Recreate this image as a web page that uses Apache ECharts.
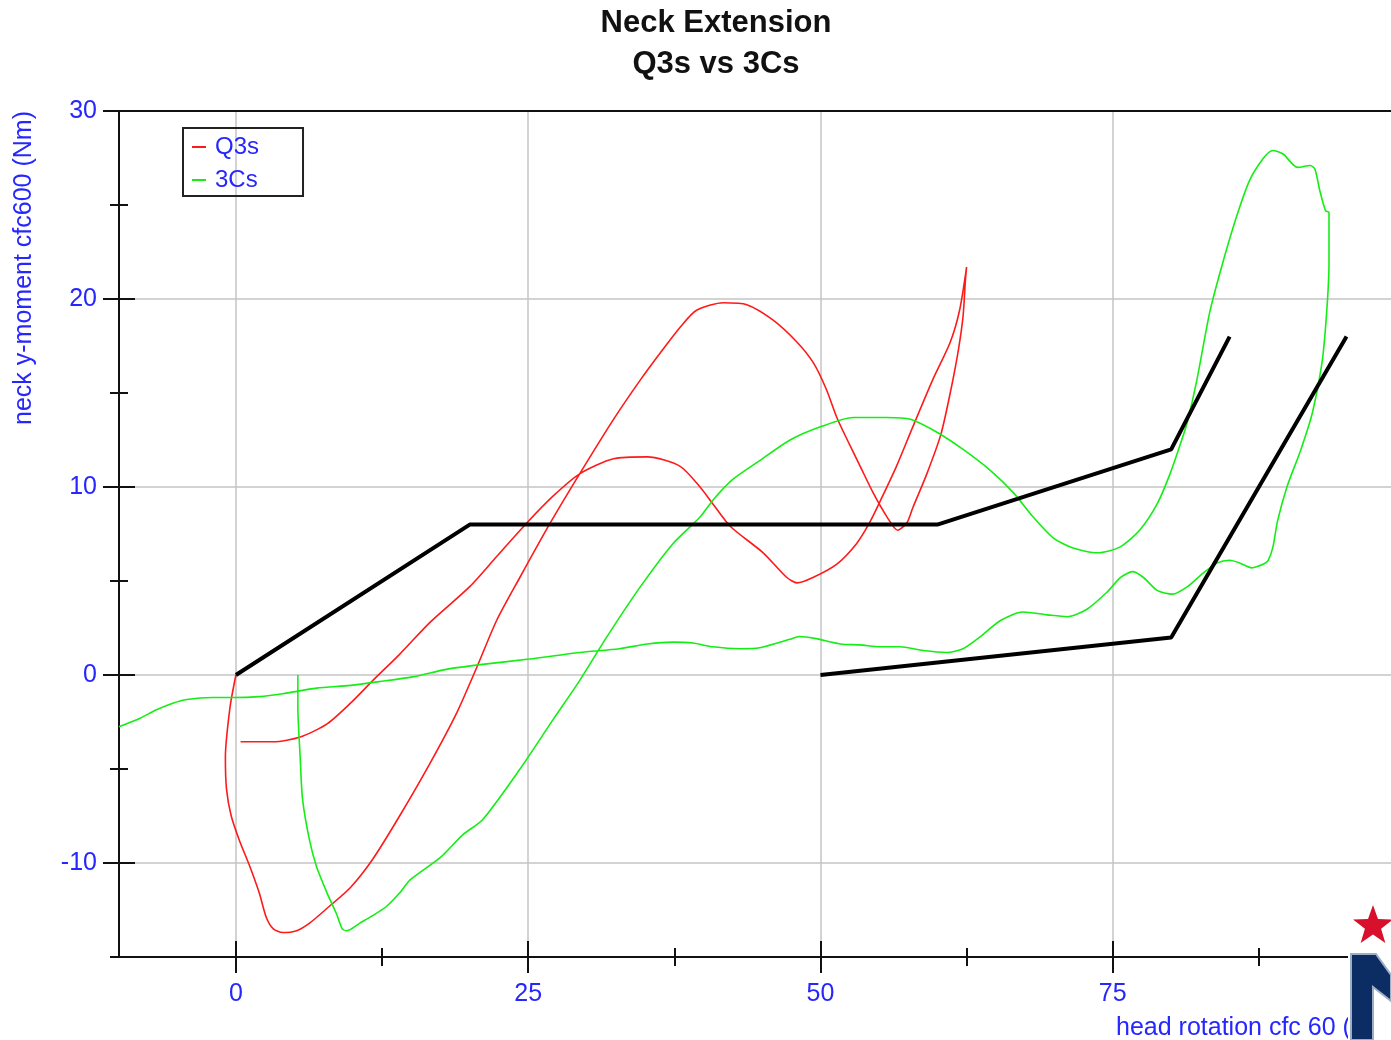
<!DOCTYPE html>
<html>
<head>
<meta charset="utf-8">
<script src="https://cdn.jsdelivr.net/npm/echarts@6/dist/echarts.min.js"></script>
<style>html,body{margin:0;padding:0;background:#fff}#c{width:1391px;height:1040px}</style>
</head>
<body>
<div id="c"></div>
<script>
// ---- data ----
const titleText = 'Neck Extension\nQ3s vs 3Cs';
const xName = 'head rotation cfc 60 (deg)';
const yName = 'neck y-moment cfc600 (Nm)';
const seriesNames = ['Q3s', '3Cs'];
const xRange = [-10, 100];
const yRange = [-15, 30];
const xMajorTicks = [0, 25, 50, 75, 100];
const xMinorTicks = [12.5, 37.5, 62.5, 87.5];
const xTickLabels = [0, 25, 50, 75];
const yMajorTicks = [-10, 0, 10, 20, 30];
const yMinorTicks = [-15, -5, 5, 15, 25];
const yTickLabels = [-10, 0, 10, 20, 30];

const q3s = [
[0,0],[-0.5,-1.7],[-0.9,-4.4],[-0.8,-6.1],[-0.4,-7.5],[0.3,-8.8],[1.2,-10.2],[2.0,-11.6],[2.6,-12.9],[3.2,-13.5],[4.0,-13.7],[5.2,-13.6],[6.3,-13.2],[8.0,-12.3],[9.8,-11.3],[11.7,-9.8],[14.0,-7.5],[16.6,-4.7],[18.9,-2.0],[20.6,0.4],[22.3,2.9],[24.3,5.2],[26.9,8.1],[29.4,10.7],[32.3,13.6],[34.6,15.7],[36.5,17.3],[38.0,18.5],[39.4,19.4],[41.7,19.8],[43.7,19.7],[45.9,18.9],[48.0,17.7],[49.4,16.6],[50.5,15.2],[51.4,13.7],[52.3,12.5],[53.4,11.1],[54.5,9.7],[55.7,8.4],[56.6,7.7],[57.4,8.1],[57.9,8.9],[59.1,10.7],[60.3,12.8],[61.1,15.0],[61.8,17.3],[62.2,19.1],[62.4,21.0],[62.5,21.7],[61.9,19.4],[61.1,17.7],[59.6,15.7],[57.9,13.2],[56.5,11.1],[55.3,9.5],[54.2,8.1],[53.1,7.0],[51.4,5.9],[49.4,5.2],[48.0,4.9],[47.1,5.2],[45.1,6.5],[42.3,7.9],[40.8,9.1],[39.7,10.0],[38.0,11.1],[35.2,11.6],[32.3,11.5],[29.4,10.7],[27.1,9.5],[24.9,8.1],[22.3,6.3],[20.0,4.7],[16.6,2.8],[14.0,1.1],[11.7,-0.3],[9.8,-1.5],[7.8,-2.6],[5.5,-3.3],[3.2,-3.55],[0.4,-3.55]
];

const c3s = [
[5.3,0],[5.3,-1.7],[5.5,-4.4],[5.7,-6.6],[6.3,-8.8],[6.9,-10.2],[7.8,-11.6],[8.6,-12.7],[9.1,-13.5],[9.5,-13.6],[10.6,-13.2],[11.7,-12.8],[12.9,-12.3],[14.0,-11.6],[14.9,-10.9],[17.5,-9.7],[19.4,-8.5],[21.1,-7.7],[24.3,-5.0],[27.1,-2.4],[29.4,-0.3],[31.7,2.0],[34.6,4.7],[37.4,7.0],[39.7,8.4],[40.8,9.3],[42.5,10.4],[44.8,11.4],[47.4,12.5],[50.0,13.2],[52.8,13.7],[55.7,13.7],[57.7,13.6],[60.0,12.9],[62.2,12.0],[64.5,10.9],[66.5,9.7],[68.2,8.4],[69.9,7.3],[71.6,6.75],[73.7,6.5],[75.6,6.8],[77.3,7.7],[78.8,9.1],[79.9,10.7],[80.9,12.5],[81.4,13.5],[82.2,15.7],[83.3,19.3],[84.4,21.9],[85.6,24.4],[86.7,26.3],[87.9,27.5],[88.7,27.9],[89.6,27.7],[90.8,27.0],[91.9,27.1],[92.3,26.9],[92.7,25.8],[93.2,24.7],[93.5,24.6],[93.5,21.9],[93.3,19.3],[92.9,16.6],[92.1,14.0],[91.1,12.0],[89.9,10.0],[89.1,8.2],[88.7,6.8],[88.3,6.1],[87.9,5.9],[86.9,5.7],[85.9,5.95],[85.0,6.1],[83.9,5.95],[82.7,5.4],[81.4,4.7],[80.1,4.3],[78.8,4.5],[77.6,5.2],[76.7,5.5],[75.7,5.2],[74.5,4.4],[72.8,3.5],[71.1,3.1],[69.4,3.2],[67.3,3.35],[65.4,2.9],[63.6,2.0],[62.2,1.4],[60.8,1.2],[58.8,1.3],[56.8,1.5],[55.1,1.5],[53.4,1.6],[51.7,1.65],[49.5,1.95],[48.2,2.05],[47.4,1.9],[44.8,1.45],[43.1,1.4],[40.8,1.5],[39.1,1.7],[37.4,1.75],[35.2,1.65],[32.8,1.4],[29.4,1.2],[25.1,0.85],[20.9,0.55],[18.0,0.3],[15.1,-0.1],[12.3,-0.35],[9.8,-0.55],[6.9,-0.7],[4.0,-1.0],[2.0,-1.15],[-0.3,-1.2],[-2.0,-1.2],[-4.2,-1.3],[-5.4,-1.5],[-6.8,-1.85],[-8.2,-2.3],[-10.0,-2.75]
];

const corridorUpper = [[0,0],[20,8],[60,8],[80,12],[85,18]];
const corridorLower = [[50,0],[80,2],[95,18]];

// ---- styling ----
const FONT = "'Liberation Sans', Arial, sans-serif";
const BLUE = '#2626ff';
const RED = '#ff1a1a';
const GREEN = '#14ee14';
const AXIS = '#111';
const FS = 25;

function tickAxis(pos, offset, len, values, range) {
  return {
    type: 'value', position: pos, offset: offset, min: range[0], max: range[1],
    axisLine: { show: false, onZero: false },
    axisTick: { show: true, inside: false, length: len, customValues: values, lineStyle: { color: AXIS, width: 2 } },
    axisLabel: { show: false }, splitLine: { show: false }
  };
}

function starPoints(cx, cy, R, r) {
  const pts = [];
  for (let i = 0; i < 10; i++) {
    const a = -Math.PI / 2 + i * Math.PI / 5;
    const rad = i % 2 === 0 ? R : r;
    pts.push([cx + rad * Math.cos(a), cy + rad * Math.sin(a)]);
  }
  return pts;
}

const chart = echarts.init(document.getElementById('c'), null, { renderer: 'canvas' });
chart.setOption({
  animation: false,
  backgroundColor: '#fff',
  title: {
    text: titleText, left: 716, top: 3, textAlign: 'center', padding: 0,
    textStyle: { fontFamily: FONT, fontSize: 31, fontWeight: 'bold', color: '#111', lineHeight: 41 }
  },
  legend: {
    data: seriesNames, orient: 'vertical', left: 183, top: 128,
    icon: 'rect', itemWidth: 14, itemHeight: 2, itemGap: 9,
    padding: [7, 44, 4, 9], borderColor: '#222', borderWidth: 2,
    textStyle: { color: BLUE, fontSize: 24, fontFamily: FONT, padding: [0, 0, 0, 4] }
  },
  grid: { left: 119, right: -14, top: 111, bottom: 83, outerBoundsMode: 'none', containLabel: false },
  xAxis: [
    {
      type: 'value', position: 'bottom', min: xRange[0], max: xRange[1],
      axisLine: { show: true, onZero: false, lineStyle: { color: AXIS, width: 2 } },
      axisTick: { show: false, customValues: xMajorTicks },
      axisLabel: { customValues: xTickLabels, color: BLUE, fontSize: FS, fontFamily: FONT, margin: 25 },
      splitLine: { show: true, lineStyle: { color: '#c4c4c4', width: 1.5 } },
      name: xName, nameLocation: 'middle', nameGap: 59, nameMoveOverlap: false,
      nameTextStyle: { color: BLUE, fontSize: FS, fontFamily: FONT, align: 'left', padding: [0, 0, 0, 354] }
    },
    tickAxis('bottom', -16, 32, xMajorTicks, xRange),
    tickAxis('bottom', -9, 18, xMinorTicks, xRange),
    {
      type: 'value', position: 'top', min: xRange[0], max: xRange[1],
      axisLine: { show: true, onZero: false, lineStyle: { color: AXIS, width: 2 } },
      axisTick: { show: false }, axisLabel: { show: false }, splitLine: { show: false }
    }
  ],
  yAxis: [
    {
      type: 'value', position: 'left', min: yRange[0], max: yRange[1],
      axisLine: { show: true, onZero: false, lineStyle: { color: AXIS, width: 2 } },
      axisTick: { show: false, customValues: yMajorTicks },
      axisLabel: { customValues: yTickLabels, color: BLUE, fontSize: FS, fontFamily: FONT, margin: 22 },
      splitLine: { show: true, lineStyle: { color: '#c4c4c4', width: 1.5 } },
      name: yName, nameLocation: 'end', nameGap: 0, nameRotate: 90, nameMoveOverlap: false,
      nameTextStyle: { color: BLUE, fontSize: FS, fontFamily: FONT, align: 'right', verticalAlign: 'bottom', padding: [0, 0, 82, 0] }
    },
    tickAxis('left', -16, 32, yMajorTicks, yRange),
    tickAxis('left', -9, 18, yMinorTicks, yRange)
  ],
  series: [
    {
      name: seriesNames[0], type: 'line', data: q3s, xAxisIndex: 0, yAxisIndex: 0,
      showSymbol: false, symbol: 'none', smooth: 0.25, z: 3,
      lineStyle: { color: RED, width: 1.6 }, itemStyle: { color: RED }
    },
    {
      name: seriesNames[1], type: 'line', data: c3s, xAxisIndex: 0, yAxisIndex: 0,
      showSymbol: false, symbol: 'none', smooth: 0.25, z: 3,
      lineStyle: { color: GREEN, width: 1.6 }, itemStyle: { color: GREEN }
    },
    {
      name: 'corridor-upper', type: 'line', data: corridorUpper, xAxisIndex: 0, yAxisIndex: 0,
      symbol: 'none', z: 4, lineStyle: { color: '#000', width: 4 }, itemStyle: { color: '#000' }
    },
    {
      name: 'corridor-lower', type: 'line', data: corridorLower, xAxisIndex: 0, yAxisIndex: 0,
      symbol: 'none', z: 4, lineStyle: { color: '#000', width: 4 }, itemStyle: { color: '#000' }
    }
  ],
  graphic: [
    { type: 'rect', zlevel: 2, z: 99, shape: { x: 1348, y: 948, width: 50, height: 100 }, style: { fill: '#fff' } },
    { type: 'polygon', zlevel: 2, z: 100, shape: { points: starPoints(1373, 926, 21, 8.5) }, style: { fill: '#d8102c' } },
    { type: 'polygon', zlevel: 2, z: 100, shape: { points: [[1351,954],[1376,954],[1391,975],[1391,1001],[1373,987],[1373,1040],[1351,1040]] },
      style: { fill: '#0b2d63', stroke: '#9cadc6', lineWidth: 2 } }
  ]
});
</script>
</body>
</html>
